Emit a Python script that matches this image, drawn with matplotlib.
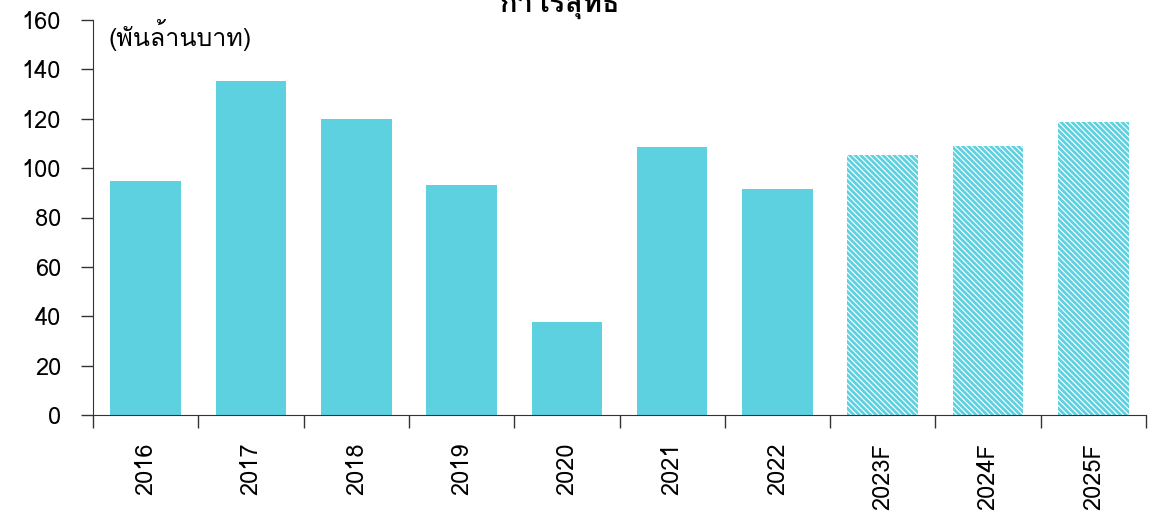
import matplotlib
matplotlib.use("Agg")
import matplotlib.pyplot as plt
from matplotlib import font_manager

categories = ["2016", "2017", "2018", "2019", "2020", "2021", "2022", "2023F", "2024F", "2025F"]
values = [94.7, 135.2, 119.8, 93.1, 37.6, 108.5, 91.5, 105.3, 108.9, 118.6]
forecast = [False, False, False, False, False, False, False, True, True, True]
yticks = [0, 20, 40, 60, 80, 100, 120, 140, 160]
title = "กำไรสุทธิ"
unit_label = "(พันล้านบาท)"

def find_thai_font():
    try:
        from fontTools.ttLib import TTFont
    except Exception:
        return None
    for f in font_manager.fontManager.ttflist:
        try:
            tt = TTFont(f.fname, fontNumber=0, lazy=True)
            cmap = tt.getBestCmap()
            if cmap and 0x0E1E in cmap and 0x0E01 in cmap:
                return f.name
        except Exception:
            pass
    return None

thai = find_thai_font()
fams = ([thai] if thai else []) + ["DejaVu Sans"]
plt.rcParams['font.family'] = fams
plt.rcParams['hatch.linewidth'] = 2.0

color = "#5ED1E0"
fig = plt.figure(figsize=(11.6, 5.14), dpi=100)
ax = fig.add_axes([93/1160, 1 - 415/514, (1146-93)/1160, (415-20)/514])

x = list(range(len(categories)))
for xi, v, f in zip(x, values, forecast):
    if f:
        ax.bar(xi, v, width=0.67, facecolor="white", edgecolor=color, hatch="\\" * 6, linewidth=0)
    else:
        ax.bar(xi, v, width=0.67, color=color, linewidth=0)

ax.set_xlim(-0.5, len(categories) - 0.5)
ax.set_ylim(0, 160)
ax.set_yticks(yticks)
ax.set_yticklabels([str(t) for t in yticks], fontsize=17)
ax.set_xticks(x)
ax.set_xticklabels(categories, rotation=90, fontsize=17)
ax.tick_params(axis='x', length=0, pad=20)
ax.set_xticks([i - 0.5 for i in range(len(categories) + 1)], minor=True)
ax.tick_params(axis='x', which='minor', length=9, width=1, color="#333333")
ax.tick_params(axis='y', length=9, width=1, color="#333333", pad=14)
for s in ["top", "right"]:
    ax.spines[s].set_visible(False)
ax.spines["left"].set_color("#333333")
ax.spines["bottom"].set_color("#333333")

fig.text(108/1160, 1 - 35/514, unit_label, fontsize=18, va="center", ha="left")
fig.text(560/1160, 1 - 12/514, title, fontsize=21, fontweight="bold", ha="center", va="baseline")

fig.savefig("out.png", dpi=100)
